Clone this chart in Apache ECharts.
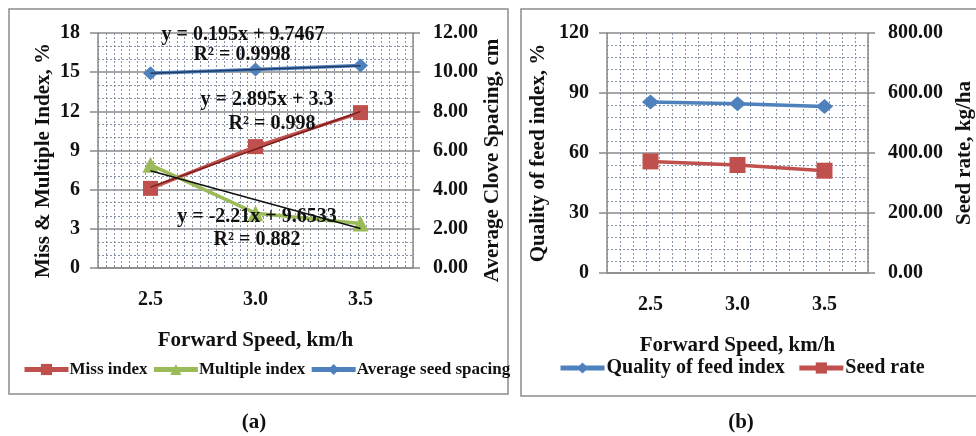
<!DOCTYPE html>
<html>
<head>
<meta charset="utf-8">
<script src="https://cdn.jsdelivr.net/npm/echarts@6/dist/echarts.min.js"></script>
<style>
  html, body { margin: 0; padding: 0; background: #fff; }
  #chart { width: 976px; height: 436px; }
</style>
</head>
<body>
<div id="chart"></div>
<script>
(function () {
  "use strict";

  // forward speed, km/h
  const speeds = ["2.5", "3.0", "3.5"];

  // panel (a)
  const missIndex = [6.1, 9.3, 11.9];
  const multipleIndex = [7.9, 4.2, 3.4];
  const seedSpacing = [9.95, 10.13, 10.34];
  const missTrend = [6.195, 9.09, 11.985];
  const multipleTrend = [7.443, 5.233, 3.023];
  const spacingTrend = [9.942, 10.137, 10.332];

  // panel (b)
  const feedQuality = [85.5, 84.6, 83.2];
  const seedRate = [372, 360, 341];

  const FONT = '"Liberation Serif", "Times New Roman", serif';
  const C = {
    axis: "#8a8a8a", minor: "#8493a8", text: "#111",
    red: "#C0504D", green: "#9BBB59", blue: "#4F81BD",
    redDark: "#7a1f1c", blueDark: "#1f3d66", black: "#111",
  };

  const lbl = (extra) => Object.assign({ color: C.text, fontFamily: FONT, fontWeight: "bold", fontSize: 20 }, extra || {});
  const nameStyle = (extra) => Object.assign({ color: C.text, fontFamily: FONT, fontWeight: "bold", fontSize: 21 }, extra || {});

  function catAxis(grid) {
    return {
      type: "category", gridIndex: grid, data: speeds,
      axisLine: { lineStyle: { color: C.axis, width: 1.5 } },
      axisTick: { length: 6, lineStyle: { color: C.axis, width: 1.5 } },
      axisLabel: lbl({ margin: 22 }),
      splitLine: { show: false },
      name: "Forward Speed, km/h", nameLocation: "middle", nameGap: 62,
      nameTextStyle: nameStyle(),
    };
  }

  function gridAxis(grid, n) {
    return {
      type: "value", gridIndex: grid, min: 0, max: n, interval: 1,
      axisLine: { show: false }, axisTick: { show: false }, axisLabel: { show: false },
      splitLine: { show: true, lineStyle: { color: C.minor, type: [2, 2], width: 1 } },
    };
  }

  function leftAxis(grid, max, step, name, gap, minorN, pad) {
    return {
      type: "value", gridIndex: grid, position: "left", min: 0, max, interval: step,
      axisLine: { show: true, lineStyle: { color: C.axis, width: 1.5 } },
      axisTick: { show: true, length: 8, lineStyle: { color: C.axis, width: 1.5 } },
      axisLabel: lbl({ margin: 18 }),
      splitLine: { show: true, lineStyle: { color: C.axis, width: 1.5 } },
      minorTick: { show: false, splitNumber: minorN },
      minorSplitLine: { show: true, lineStyle: { color: C.minor, type: [2, 2], width: 1 } },
      name, nameLocation: "middle", nameGap: gap,
      nameTextStyle: nameStyle({ padding: pad }),
    };
  }

  function rightAxis(grid, max, step, name, gap, pad) {
    return {
      type: "value", gridIndex: grid, position: "right", min: 0, max, interval: step,
      axisLine: { show: true, lineStyle: { color: C.axis, width: 1.5 } },
      axisTick: { show: true, length: 7, lineStyle: { color: C.axis, width: 1.5 } },
      axisLabel: lbl({ margin: 20, formatter: (v) => v.toFixed(2) }),
      splitLine: { show: false },
      name, nameLocation: "middle", nameGap: gap,
      nameTextStyle: nameStyle({ padding: pad }),
    };
  }

  function dataLine(name, data, xi, yi, color, symbol, size) {
    return {
      type: "line", name, data, xAxisIndex: xi, yAxisIndex: yi,
      symbol, symbolSize: size, showSymbol: true,
      lineStyle: { color, width: 3.5 }, itemStyle: { color },
      z: 3,
    };
  }

  function trendLine(data, xi, yi, color) {
    return {
      type: "line", data, xAxisIndex: xi, yAxisIndex: yi,
      symbol: "none", lineStyle: { color, width: 1.5 }, z: 4, silent: true,
    };
  }

  function eqText(text, x, y) {
    return {
      type: "text", x, y, z: 100,
      style: { text, fill: C.text, font: "bold 20px " + FONT, align: "center", verticalAlign: "middle" },
    };
  }

  const chart = echarts.init(document.getElementById("chart"), null, { renderer: "canvas" });

  chart.setOption({
    animation: false,
    backgroundColor: "#fff",
    grid: [
      { left: 98, top: 33, width: 315, height: 235 },
      { left: 607, top: 33, width: 265, height: 240 },
    ],
    xAxis: [catAxis(0), gridAxis(0, 40), catAxis(1), gridAxis(1, 20)],
    yAxis: [
      leftAxis(0, 18, 3, "Miss & Multiple Index, %", 44, 3, [0, 20, 0, 0]),
      rightAxis(0, 12, 2, "Average Clove Spacing, cm", 68, [0, 20, 0, 0]),
      leftAxis(1, 120, 30, "Quality of feed index, %", 58, 5, 0),
      rightAxis(1, 800, 200, "Seed rate, kg/ha", 86, 0),
    ],
    legend: [
      {
        left: 17, top: 356, itemWidth: 44, itemHeight: 14, itemGap: 4,
        lineStyle: { width: 5 },
        data: ["Miss index", "Multiple index", "Average seed spacing"],
        textStyle: { color: C.text, fontFamily: FONT, fontWeight: "bold", fontSize: 17, padding: [0, 0, 0, -4] },
      },
      {
        left: 553, top: 353, itemWidth: 44, itemHeight: 14, itemGap: 12,
        lineStyle: { width: 5 },
        data: ["Quality of feed index", "Seed rate"],
        textStyle: { color: C.text, fontFamily: FONT, fontWeight: "bold", fontSize: 20, padding: [0, 0, 0, -3] },
      },
    ],
    series: [
      dataLine("Miss index", missIndex, 0, 0, C.red, "rect", 15),
      dataLine("Multiple index", multipleIndex, 0, 0, C.green, "triangle", 16),
      dataLine("Average seed spacing", seedSpacing, 0, 1, C.blue, "diamond", [15, 14]),
      trendLine(missTrend, 0, 0, C.redDark),
      trendLine(multipleTrend, 0, 0, C.black),
      trendLine(spacingTrend, 0, 1, C.blueDark),
      dataLine("Quality of feed index", feedQuality, 2, 2, C.blue, "diamond", [17, 15]),
      dataLine("Seed rate", seedRate, 2, 3, C.red, "rect", 16),
    ],
    graphic: [
      { type: "rect", shape: { x: 9, y: 9, width: 499, height: 385 }, style: { fill: "none", stroke: "#8c8c8c", lineWidth: 1.5 }, z: 0 },
      { type: "rect", shape: { x: 521, y: 9, width: 480, height: 387 }, style: { fill: "none", stroke: "#8c8c8c", lineWidth: 1.5 }, z: 0 },
      eqText("y = 0.195x + 9.7467", 243, 35),
      eqText("R\u00b2 = 0.9998", 242, 55),
      eqText("y = 2.895x + 3.3", 267, 100),
      eqText("R\u00b2 = 0.998", 272, 124),
      eqText("y = -2.21x + 9.6533", 257, 217),
      eqText("R\u00b2 = 0.882", 257, 240),
      { type: "text", x: 254, y: 423, z: 100, style: { text: "(a)", fill: C.text, font: 'bold 21px "Liberation Sans Narrow", "Liberation Serif", serif', align: "center", verticalAlign: "middle" } },
      { type: "text", x: 741, y: 423, z: 100, style: { text: "(b)", fill: C.text, font: 'bold 21px "Liberation Sans Narrow", "Liberation Serif", serif', align: "center", verticalAlign: "middle" } },
    ],
  });
})();
</script>
</body>
</html>
